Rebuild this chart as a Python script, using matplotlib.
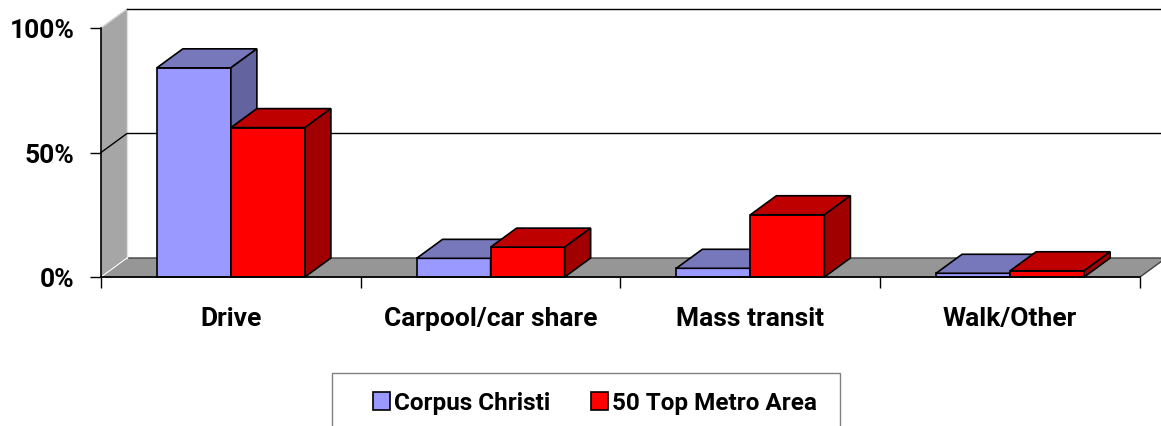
import matplotlib.pyplot as plt
from matplotlib.patches import Polygon, Patch, Rectangle

categories = ["Drive", "Carpool/car share", "Mass transit", "Walk/Other"]
corpus_christi = [84, 7.5, 3.5, 1.5]
top_metro = [60, 12, 25, 2.5]
series_names = ["Corpus Christi", "50 Top Metro Area"]
y_ticks = [0, 50, 100]
y_labels = ["0%", "50%", "100%"]

# face colours: front, top, side
cc_colors = ("#9999ff", "#7777bb", "#63639f")
tm_colors = ("#ff0000", "#bf0000", "#a00000")

plt.rcParams['font.family'] = ['Roboto', 'DejaVu Sans']
plt.rcParams['font.weight'] = 'bold'

W, H = 1161, 427
fig = plt.figure(figsize=(W / 100, H / 100), dpi=100)
ax = fig.add_axes([101 / W, 1 - 278 / H, 1039 / W, 249 / H])
ax.set_xlim(0, 4)
ax.set_ylim(0, 100)
ax.patch.set_visible(False)

# depth of the fake 3-D box, in data units
dx = 26 / 1039 * 4
dy = 19 / 249 * 100
n = len(categories)

# side wall and floor
ax.add_patch(Polygon([(0, 0), (0, 100), (dx, 100 + dy), (dx, dy)],
                     closed=True, fc="#a6a6a6", ec="none", clip_on=False, zorder=1))
ax.add_patch(Polygon([(0, 0), (n, 0), (n + dx, dy), (dx, dy)],
                     closed=True, fc="#969696", ec="#404040", lw=1, clip_on=False, zorder=1))
ax.plot([dx, dx], [dy, 100 + dy], color="#e0e0e0", lw=1, clip_on=False, zorder=2)
ax.plot([0, dx], [0, dy], color="white", lw=1, clip_on=False, zorder=2)
ax.plot([0, dx], [100, 100 + dy], color="#d0d0d0", lw=1, clip_on=False, zorder=2)
ax.plot([dx, n + dx], [100 + dy, 100 + dy], color="black", lw=1, clip_on=False, zorder=2)
ax.plot([0, dx, n + dx], [50, 50 + dy, 50 + dy], color="black", lw=1, clip_on=False, zorder=2)

bw = 0.285
left0 = 0.215
z = 3
for i in range(n):
    for k, (vals, cols) in enumerate([(corpus_christi, cc_colors), (top_metro, tm_colors)]):
        xl = i + left0 + k * bw
        xr = xl + bw
        v = vals[i]
        ax.bar(xl, v, width=bw, align="edge", color=cols[0],
               edgecolor="black", lw=1.2, zorder=z, clip_on=False)
        ax.add_patch(Polygon([(xl, v), (xr, v), (xr + dx, v + dy), (xl + dx, v + dy)],
                             closed=True, fc=cols[1], ec="black", lw=1.2,
                             clip_on=False, zorder=z + 1))
        ax.add_patch(Polygon([(xr, 0), (xr, v), (xr + dx, v + dy), (xr + dx, dy)],
                             closed=True, fc=cols[2], ec="black", lw=1.2,
                             clip_on=False, zorder=z + 2))
        z += 3

for s in ["top", "right"]:
    ax.spines[s].set_visible(False)
for s in ["left", "bottom"]:
    ax.spines[s].set_color("black")
    ax.spines[s].set_linewidth(1.2)
    ax.spines[s].set_zorder(100)

ax.set_yticks(y_ticks, y_labels, fontweight="bold")
ax.tick_params(axis="y", direction="out", length=8, width=1, pad=11, labelsize=19)
ax.set_xticks(range(n + 1))
ax.set_xticklabels([])
ax.set_xticks([i + 0.5 for i in range(n)], categories, minor=True, fontweight="bold")
ax.tick_params(axis="x", which="major", direction="out", length=8, width=1)
ax.tick_params(axis="x", which="minor", length=0, pad=21, labelsize=19)

# legend: frame drawn separately, box runs off the bottom edge
fig.patches.append(Rectangle((332 / W, -0.1), 508 / W, 0.1 + 1 - 374 / H,
                             transform=fig.transFigure, fc="white", ec="#808080", lw=1))
handles = [Patch(fc=cc_colors[0], ec="black", lw=1.2),
           Patch(fc=tm_colors[0], ec="black", lw=1.2)]
leg = fig.legend(handles, series_names, loc="center left",
                 bbox_to_anchor=(373 / W, 1 - 404 / H), ncol=2, frameon=False,
                 prop={"weight": "bold", "size": 17.5},
                 handlelength=0.7, handleheight=0.7, handletextpad=0.15,
                 columnspacing=1.7, borderpad=0, borderaxespad=0)

fig.savefig("out.png", dpi=100)
